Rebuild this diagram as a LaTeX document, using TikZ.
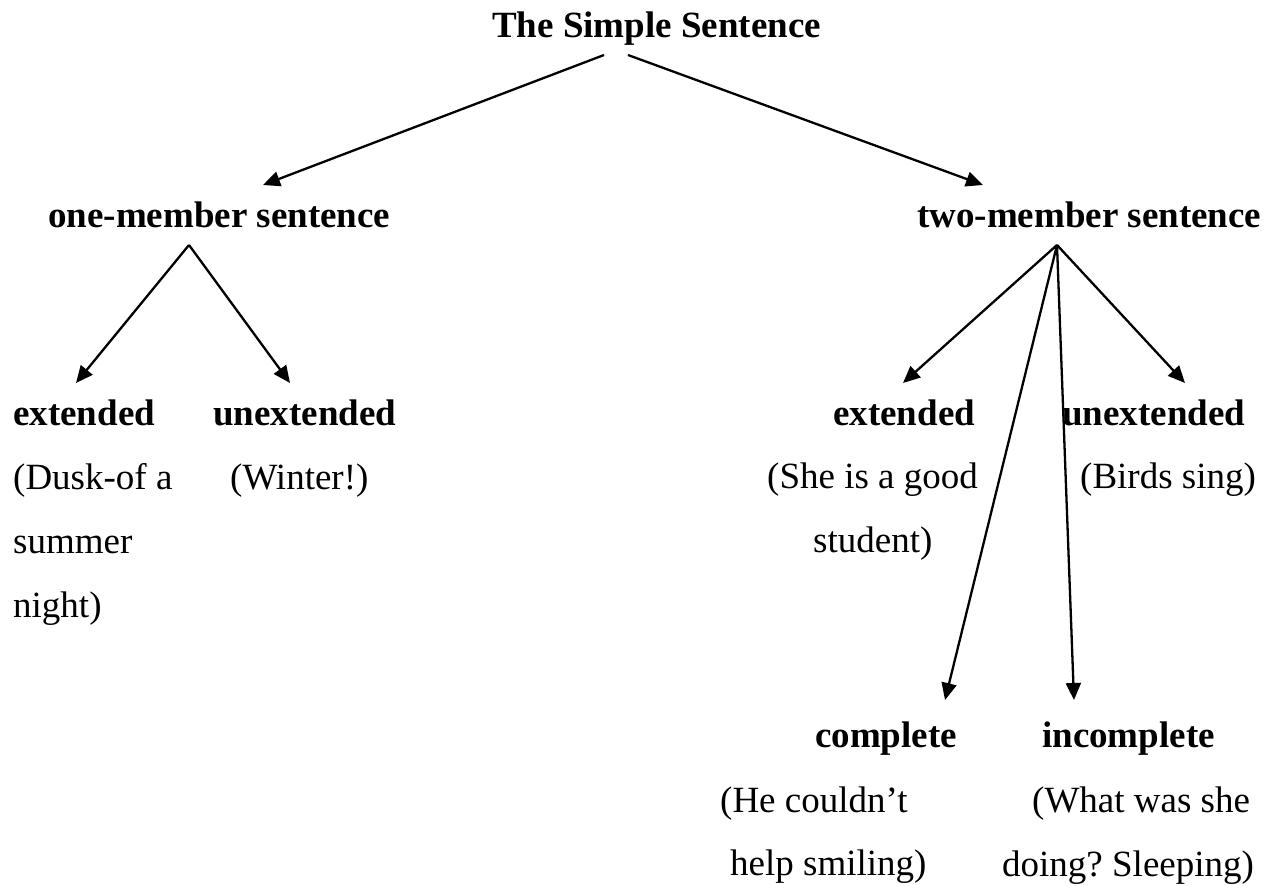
\documentclass[tikz,border=0pt]{standalone}
\usepackage{fontspec}
\setmainfont{Liberation Serif}
\usetikzlibrary{arrows.meta,calc}
\frenchspacing
\begin{document}
\begin{tikzpicture}[x=1pt,y=-1pt,
  lbl/.style={inner sep=0pt, anchor=base west, font=\fontsize{37}{44}\selectfont\bfseries},
  ex/.style={inner sep=0pt, anchor=base west, font=\fontsize{37}{44}\selectfont},
  arr/.style={-{Triangle[length=17pt,width=15pt]}, line width=2.3pt}]
\useasboundingbox (0,0) rectangle (1283,886);
% nodes
\node[lbl] (title) at (492,37) {The Simple Sentence};
\node[lbl] (one) at (48,227) {one-member sentence};
\node[lbl] (two) at (917,227) {two-member sentence};
\node[lbl] (ext1) at (13,425) {extended};
\node[lbl] (unext1) at (213,425) {unextended};
\node[ex] (ex1a) at (13,489) {(Dusk-of a};
\node[ex] (ex1b) at (13,553) {summer};
\node[ex] (ex1c) at (13,617) {night)};
\node[ex] (unex1) at (230,489) {(Winter!)};
\node[lbl] (ext2) at (833,425) {extended};
\node[lbl] (unext2) at (1062,425) {unextended};
\node[ex] (ex2a) at (767,488) {(She is a good};
\node[ex] (ex2b) at (813,552) {student)};
\node[ex] (unex2) at (1080,488) {(Birds sing)};
\node[lbl] (comp) at (815,747) {complete};
\node[lbl] (incomp) at (1042,747) {incomplete};
\node[ex] (compa) at (720,812) {(He couldn’t};
\node[ex] (compb) at (730,875) {help smiling)};
\node[ex] (incompa) at (1032,812) {(What was she};
\node[ex] (incompb) at (1002,876) {doing? Sleeping)};
% connectors
\draw[arr] ($(title.base west)+(112,18)$) -- ($(one.base west)+(215,-42)$);
\draw[arr] ($(title.base west)+(136,18)$) -- ($(two.base west)+(66,-42)$);
\draw[arr] ($(one.base west)+(141,18)$) -- ($(ext1.base west)+(63,-42)$);
\draw[arr] ($(one.base west)+(141,18)$) -- ($(unext1.base west)+(77,-42)$);
\draw[arr] ($(two.base west)+(140,18)$) -- ($(ext2.base west)+(70,-42)$);
\draw[arr] ($(two.base west)+(140,18)$) -- ($(unext2.base west)+(123,-42)$);
\draw[arr] ($(two.base west)+(140,18)$) -- ($(comp.base west)+(130,-47)$);
\draw[arr] ($(two.base west)+(140,18)$) -- ($(incomp.base west)+(32,-47)$);
\end{tikzpicture}
\end{document}
